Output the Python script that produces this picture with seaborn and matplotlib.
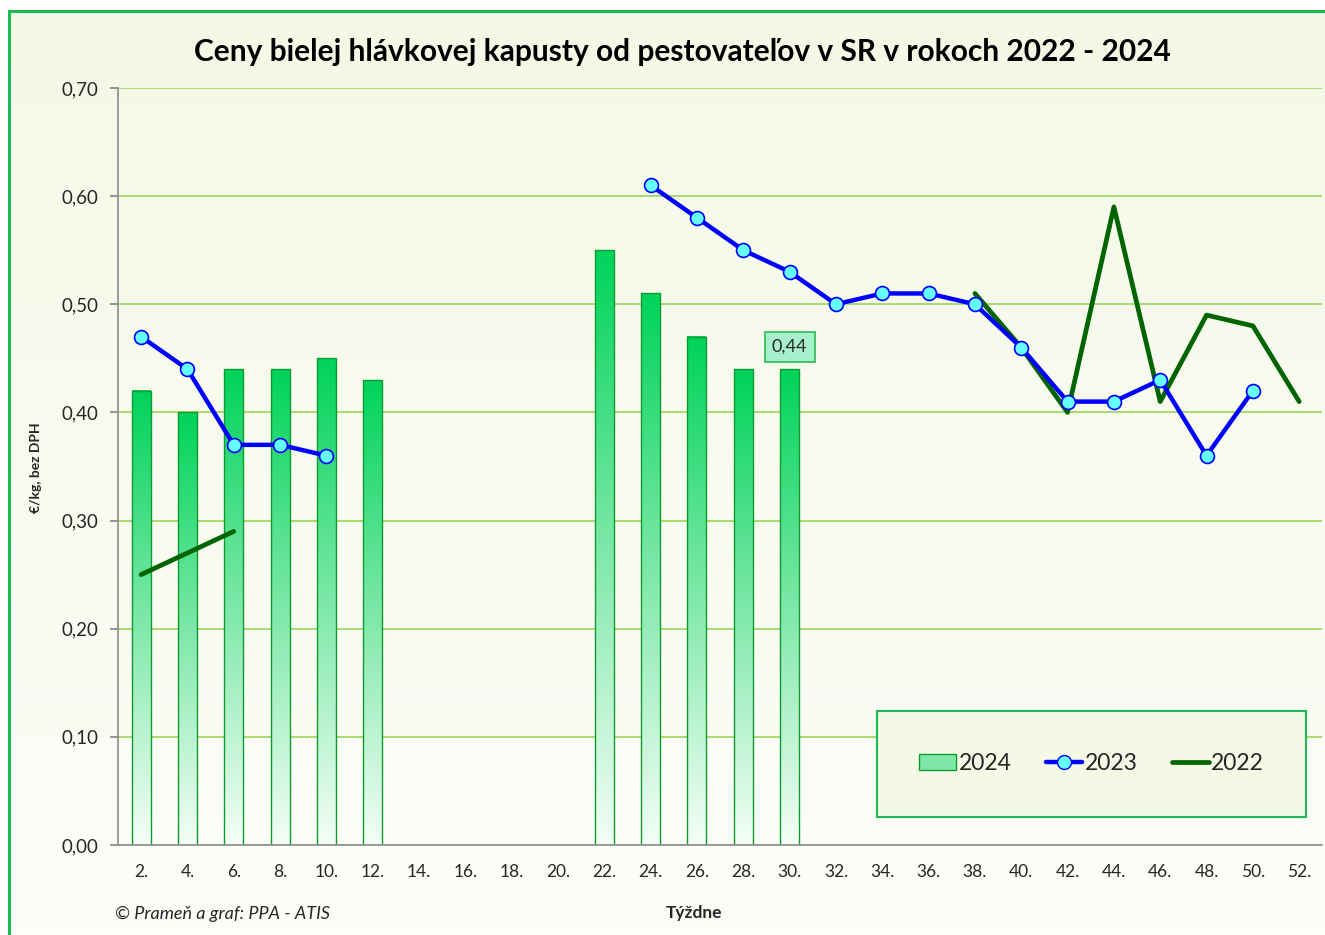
import numpy as np
import pandas as pd
import matplotlib
matplotlib.use("Agg")
import matplotlib.pyplot as plt
import matplotlib.patches as mpatches
from matplotlib.lines import Line2D
from matplotlib.colors import LinearSegmentedColormap
import seaborn as sns

weeks = [f"{w}." for w in range(2, 53, 2)]
nan = np.nan
prices_2024 = [0.42, 0.40, 0.44, 0.44, 0.45, 0.43, nan, nan, nan, nan, 0.55, 0.51, 0.47,
               0.44, 0.44, nan, nan, nan, nan, nan, nan, nan, nan, nan, nan, nan]
prices_2023 = [0.47, 0.44, 0.37, 0.37, 0.36, nan, nan, nan, nan, nan, nan, 0.61, 0.58,
               0.55, 0.53, 0.50, 0.51, 0.51, 0.50, 0.46, 0.41, 0.41, 0.43, 0.36, 0.42, nan]
prices_2022 = [0.25, 0.27, 0.29, nan, nan, nan, nan, nan, nan, nan, nan, nan, nan,
               nan, nan, nan, nan, nan, 0.51, 0.46, 0.40, 0.59, 0.41, 0.49, 0.48, 0.41]

df = pd.DataFrame({"Týždeň": weeks, "2024": prices_2024, "2023": prices_2023, "2022": prices_2022})

sns.set_theme(style="white")
plt.rcParams["font.family"] = ["Lato", "DejaVu Sans"]

bg_top = "#F4F9E6"
border_green = "#1DB954"

fig = plt.figure(figsize=(13.25, 9.35), dpi=100)
fig.patch.set_facecolor("white")

# background panel with soft gradient
bg = fig.add_axes([0.0068, 0, 1.0, 0.9882], zorder=-5)
grad = np.linspace(0, 1, 256).reshape(-1, 1)
bg_cmap = LinearSegmentedColormap.from_list("bg", [bg_top, "#FCFEF9"])
bg.imshow(grad, cmap=bg_cmap, aspect="auto", extent=[0, 1, 0, 1])
bg.set_axis_off()
fig.patches.append(mpatches.Rectangle((0.0068, -0.01), 1.2, 0.9982, transform=fig.transFigure,
                                      fill=False, edgecolor=border_green, lw=2.2, zorder=10))

ax = fig.add_axes([0.089, 0.0963, 0.909, 0.8096])
ax.patch.set_alpha(0)

sns.barplot(data=df, x="Týždeň", y="2024", order=weeks, ax=ax, width=0.41,
            color="#00D35A", edgecolor="#109A30", linewidth=1.0, zorder=2)

# per-bar vertical gradient
bar_cmap = LinearSegmentedColormap.from_list("bar", ["#F4FEF7", "#7DE8A8", "#00D35A"])
for p in ax.patches:
    h = p.get_height()
    if not np.isfinite(h) or h <= 0:
        continue
    x0, w = p.get_x(), p.get_width()
    p.set_facecolor("none")
    ax.imshow(grad, cmap=bar_cmap, origin="lower", aspect="auto",
              extent=[x0, x0 + w, 0, h], zorder=1.9)

xpos = np.arange(len(weeks))
ax.plot(xpos, df["2023"], color="#0000FF", lw=3.2, marker="o", markersize=10,
        markerfacecolor="#66FFFF", markeredgecolor="#0000FF", markeredgewidth=1.2, zorder=4)
ax.plot(xpos, df["2022"], color="#006400", lw=3.4, zorder=3)

# data label on last 2024 bar
last = int(np.where(np.isfinite(df["2024"]))[0][-1])
ax.annotate(f"{df['2024'][last]:.2f}".replace(".", ","), (last, df["2024"][last]),
            xytext=(0, 16), textcoords="offset points", ha="center", va="center",
            fontsize=13, bbox=dict(boxstyle="square,pad=0.4", fc="#A8F0CC", ec="#2DB85A", lw=1.2),
            zorder=6)

ax.set_xlim(-0.5, len(weeks) - 0.5)
ax.set_ylim(0, 0.70)
ax.set_yticks(np.arange(0, 0.71, 0.1))
ax.set_yticklabels([f"{v:.2f}".replace(".", ",") for v in np.arange(0, 0.71, 0.1)], fontsize=13.5)
ax.set_xticks(xpos)
ax.set_xticklabels(weeks, fontsize=12.5)
ax.set_xticks(np.arange(-0.5, len(weeks), 1), minor=True)
ax.tick_params(axis="x", which="major", length=0, pad=14)
ax.tick_params(axis="x", which="minor", length=6, color="#888888", direction="out")
ax.tick_params(axis="y", length=6, color="#888888", direction="out", left=True, pad=8)
ax.yaxis.grid(True, color="#9CD45A", lw=1.2, zorder=0)
ax.set_axisbelow(True)
for s in ["top", "right"]:
    ax.spines[s].set_visible(False)
for s in ["left", "bottom"]:
    ax.spines[s].set_color("#8C8C8C")
    ax.spines[s].set_linewidth(1.2)

ax.set_xlabel("")
ax.set_ylabel("")
fig.text(0.027, 0.50, "€/kg, bez DPH", rotation=90, ha="center", va="center",
         fontsize=10, fontweight="bold")

fig.text(0.515, 0.944, "Ceny bielej hlávkovej kapusty od pestovateľov v SR v rokoch 2022 - 2024",
         ha="center", va="center", fontsize=21.5, fontweight="bold", color="black")
fig.text(0.524, 0.023, "Týždne", ha="center", va="center", fontsize=12.5, fontweight="bold")
fig.text(0.087, 0.023, "© Prameň a graf: PPA - ATIS", ha="left", va="center", fontsize=13,
         style="italic")

handles = [
    mpatches.Patch(facecolor="#7DE8A8", edgecolor="#109A30", label="2024"),
    Line2D([], [], color="#0000FF", lw=3.2, marker="o", markersize=10, markerfacecolor="#66FFFF",
           markeredgecolor="#0000FF", label="2023"),
    Line2D([], [], color="#006400", lw=3.4, label="2022"),
]
leg = ax.legend(handles=handles, ncol=3, loc="lower right", bbox_to_anchor=(0.9865, 0.0375),
                fontsize=16.5, frameon=True, fancybox=False, borderpad=1.85, handlelength=1.6,
                handletextpad=0.1, columnspacing=1.5, borderaxespad=0)
leg.get_frame().set_facecolor(bg_top)
leg.get_frame().set_edgecolor(border_green)
leg.get_frame().set_linewidth(1.5)
leg.get_frame().set_alpha(1)

fig.savefig("out.png", dpi=100)
